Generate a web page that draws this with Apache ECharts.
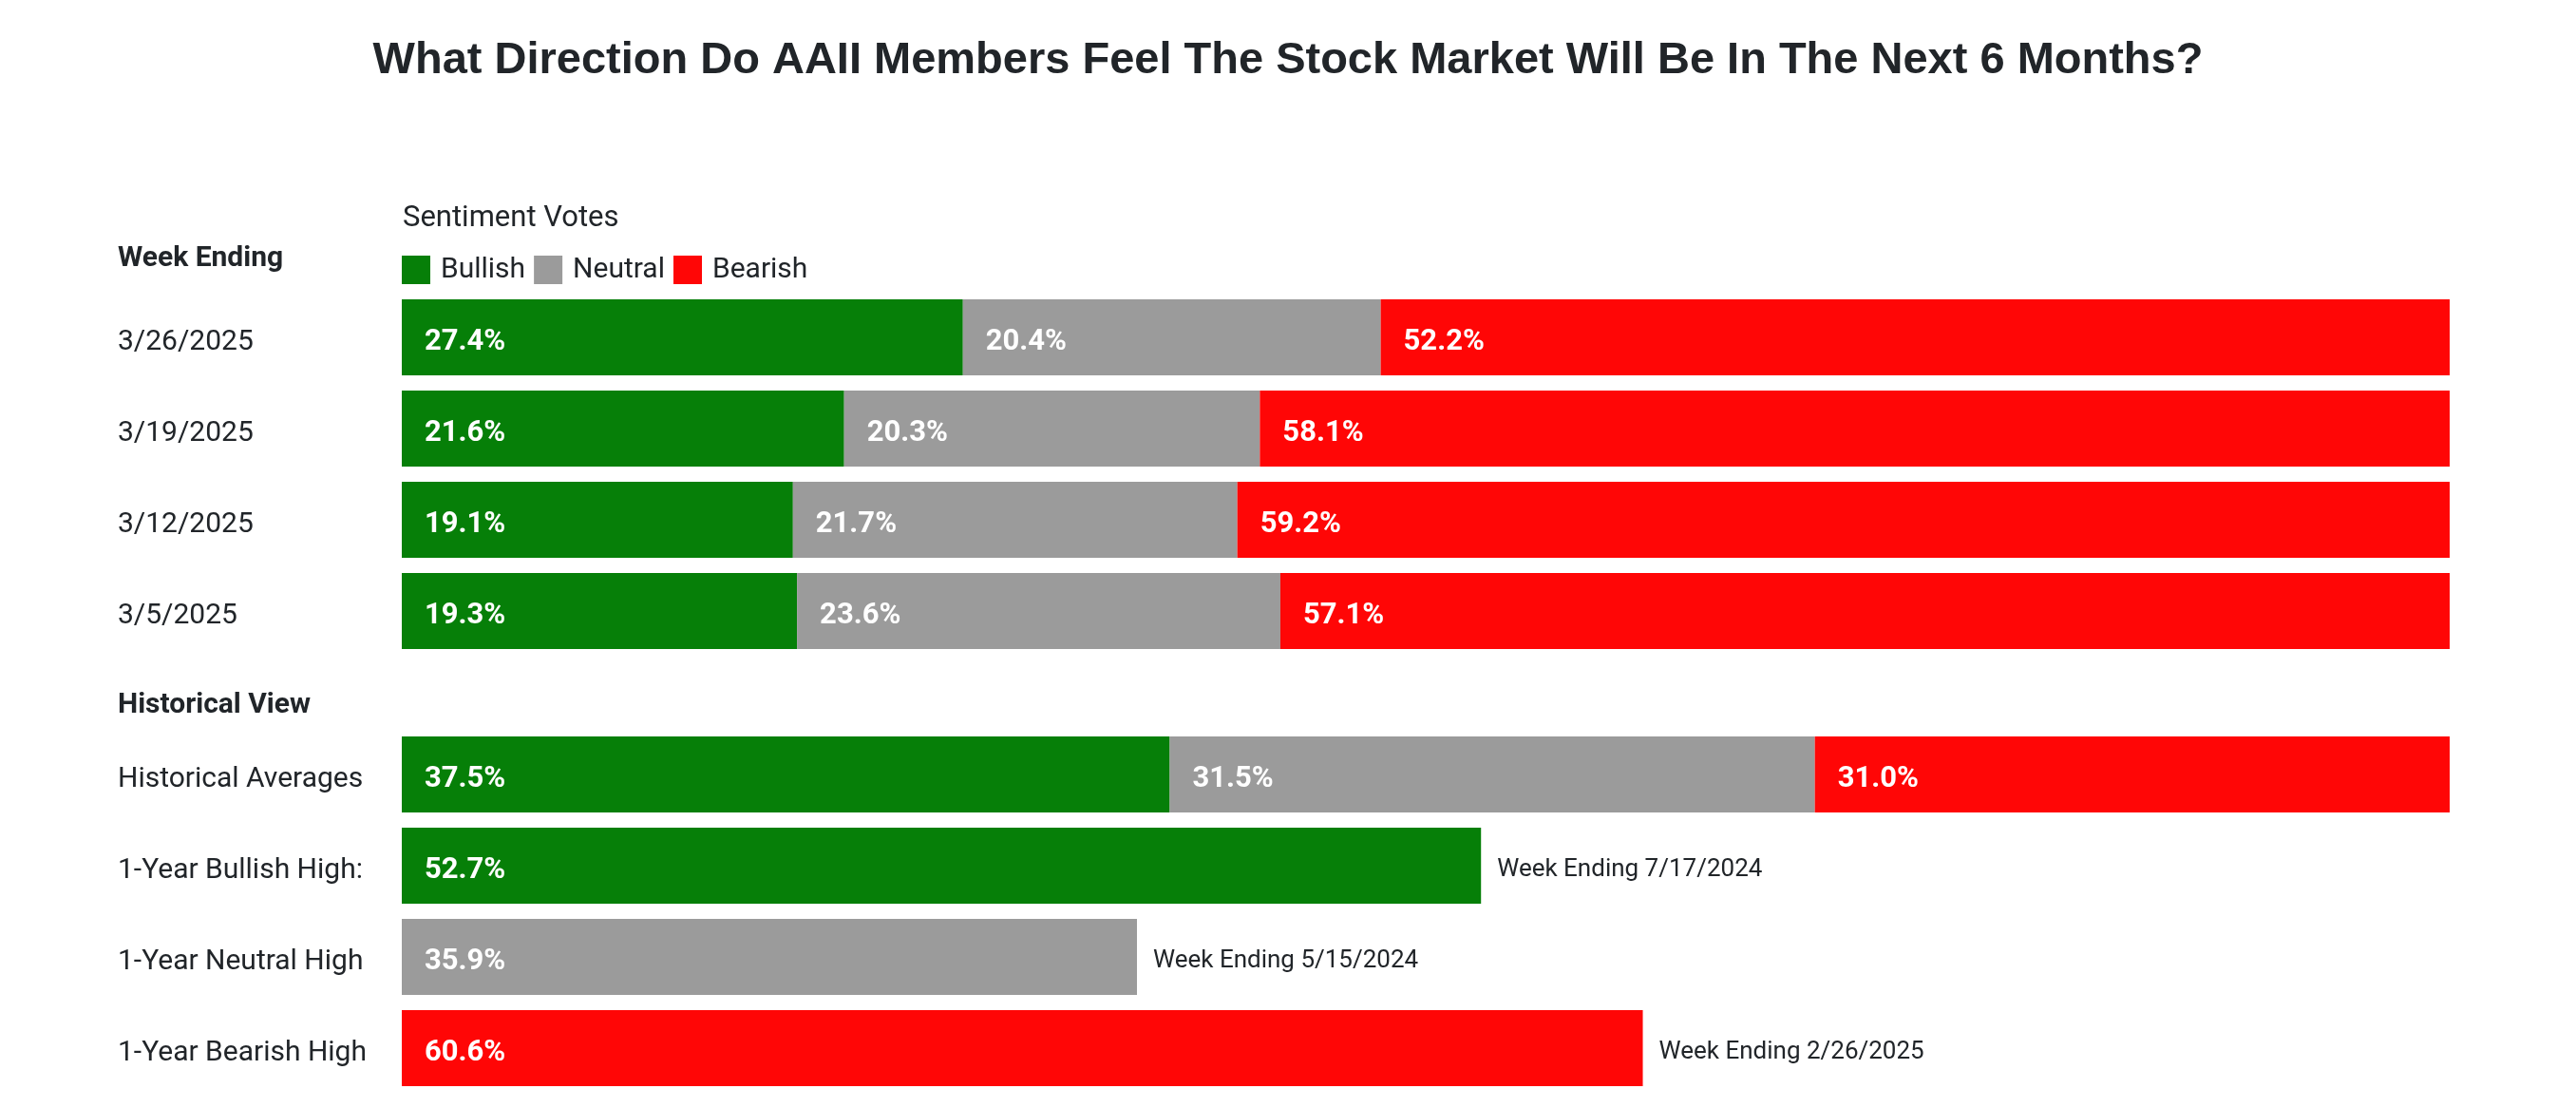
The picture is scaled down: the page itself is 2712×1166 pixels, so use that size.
<!DOCTYPE html>
<html>
<head>
<meta charset="utf-8">
<script src="https://cdn.jsdelivr.net/npm/echarts@6/dist/echarts.min.js"></script>
<style>
html,body{margin:0;padding:0;background:#fff;}
#chart{width:2712px;height:1166px;}
</style>
</head>
<body>
<div id="chart"></div>
<script>
// ---- data ----
const titleText = 'What Direction Do AAII Members Feel The Stock Market Will Be In The Next 6 Months?';
const seriesNames = ['Bullish', 'Neutral', 'Bearish'];
const weekCategories = ['3/26/2025', '3/19/2025', '3/12/2025', '3/5/2025'];
const weekBullish = [27.4, 21.6, 19.1, 19.3];
const weekNeutral = [20.4, 20.3, 21.7, 23.6];
const weekBearish = [52.2, 58.1, 59.2, 57.1];
const histCategories = ['Historical Averages', '1-Year Bullish High:', '1-Year Neutral High', '1-Year Bearish High'];
const histBullish = [37.5, 52.7, null, null];
const histNeutral = [31.5, null, 35.9, null];
const histBearish = [31.0, null, null, 60.6];
const highDates = [null, '7/17/2024', '5/15/2024', '2/26/2025'];

// ---- style ----
const COLORS = { Bullish: '#067F08', Neutral: '#9B9B9B', Bearish: '#FF0606' };
const TEXT = '#212529';

const chart = echarts.init(document.getElementById('chart'), null, { renderer: 'canvas' });

function valueLabel() {
  return {
    show: true,
    position: 'insideLeft',
    distance: 24,
    offset: [0, 5],
    color: '#fff',
    fontFamily: 'Roboto, sans-serif',
    fontWeight: 'bold',
    fontSize: 31,
    formatter: p => (p.value == null || isNaN(p.value)) ? '' : Number(p.value).toFixed(1) + '%'
  };
}

function stackSeries(name, data, gridIdx) {
  return {
    name: name,
    type: 'bar',
    stack: 'total' + gridIdx,
    xAxisIndex: gridIdx,
    yAxisIndex: gridIdx,
    barWidth: 80,
    barGap: '-100%',
    data: data,
    itemStyle: { color: COLORS[name] },
    label: valueLabel(),
    emphasis: { disabled: true },
    animation: false
  };
}

const highValues = histCategories.map((c, i) =>
  highDates[i] == null ? null : (histBullish[i] ?? histNeutral[i] ?? histBearish[i]));

const axisY = (gridIdx, cats) => ({
  type: 'category',
  gridIndex: gridIdx,
  data: cats,
  inverse: true,
  axisLine: { show: false },
  axisTick: { show: false },
  axisLabel: {
    align: 'left',
    verticalAlign: 'top',
    lineHeight: 10,
    margin: 299,
    color: TEXT,
    fontFamily: 'Roboto, sans-serif',
    fontSize: 30
  }
});

const axisX = gridIdx => ({
  type: 'value',
  gridIndex: gridIdx,
  min: 0,
  max: 100,
  show: false,
  splitLine: { show: false }
});

const option = {
  backgroundColor: '#ffffff',
  animation: false,
  title: {
    text: titleText,
    left: 'center',
    top: 36,
    textStyle: {
      fontFamily: "'Liberation Sans', Arial, sans-serif",
      fontWeight: 'bold',
      fontSize: 47,
      color: TEXT
    }
  },
  legend: {
    data: seriesNames,
    left: 423,
    top: 269,
    padding: 0,
    icon: 'rect',
    itemWidth: 30,
    itemHeight: 30,
    itemGap: 9,
    selectedMode: false,
    textStyle: {
      color: TEXT,
      fontFamily: 'Roboto, sans-serif',
      fontSize: 30,
      padding: [4, 0, 0, 6]
    }
  },
  graphic: [
    { type: 'text', left: 424, top: 215, style: { text: 'Sentiment Votes', fill: TEXT, font: "31px Roboto, sans-serif" } },
    { type: 'text', left: 124, top: 257, style: { text: 'Week Ending', fill: TEXT, font: "bold 30px Roboto, sans-serif" } },
    { type: 'text', left: 124, top: 727, style: { text: 'Historical View', fill: TEXT, font: "bold 30px Roboto, sans-serif" } }
  ],
  grid: [
    { left: 423, right: 133, top: 307, height: 384, containLabel: false },
    { left: 423, right: 133, top: 767, height: 384, containLabel: false }
  ],
  xAxis: [axisX(0), axisX(1)],
  yAxis: [axisY(0, weekCategories), axisY(1, histCategories)],
  series: [
    stackSeries('Bullish', weekBullish, 0),
    stackSeries('Neutral', weekNeutral, 0),
    stackSeries('Bearish', weekBearish, 0),
    stackSeries('Bullish', histBullish, 1),
    stackSeries('Neutral', histNeutral, 1),
    stackSeries('Bearish', histBearish, 1),
    {
      name: 'dates',
      type: 'bar',
      stack: 'dates',
      xAxisIndex: 1,
      yAxisIndex: 1,
      barWidth: 80,
      barGap: '-100%',
      data: highValues,
      silent: true,
      itemStyle: { color: 'rgba(0,0,0,0)' },
      label: {
        show: true,
        position: 'right',
        distance: 17,
        offset: [0, 4],
        color: TEXT,
        fontFamily: 'Roboto, sans-serif',
        fontSize: 26,
        formatter: p => highDates[p.dataIndex] ? 'Week Ending ' + highDates[p.dataIndex] : ''
      },
      emphasis: { disabled: true },
      animation: false
    }
  ]
};

chart.setOption(option);
</script>
</body>
</html>
